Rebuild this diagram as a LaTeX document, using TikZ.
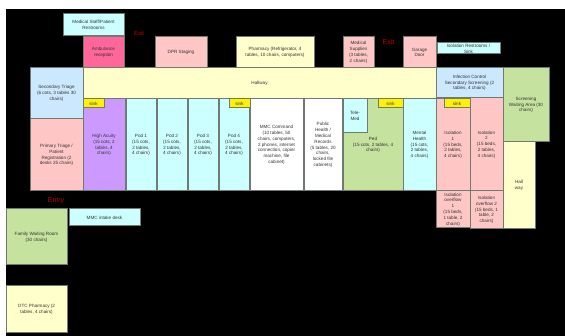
\documentclass[tikz,border=0pt]{standalone}
\usepackage{fontspec}
\setmainfont{Liberation Sans}
\definecolor{rcyan}{HTML}{CCFFFF}
\definecolor{rpink}{HTML}{FFC6C6}
\definecolor{rhot}{HTML}{FF6699}
\definecolor{ryellow}{HTML}{FFFFCC}
\definecolor{rblue}{HTML}{CCE8FF}
\definecolor{rgreen}{HTML}{C6E29F}
\definecolor{rpurple}{HTML}{CC99FF}
\definecolor{rborder}{HTML}{707A70}
\definecolor{rexit}{HTML}{C00000}
\tikzset{
  roomst/.style={draw=rborder,line width=1pt,rectangle,inner sep=0pt,outer sep=0pt,align=center,text=black!80,
    font=\fontsize{4.6}{5.8}\selectfont},
  exitst/.style={text=rexit,inner sep=0pt},
}
\newcommand\room[7]{%
  \pgfmathsetmacro\rw{#4-#2}\pgfmathsetmacro\rh{#5-#3}%
  \pgfmathsetmacro\rx{(#2+#4)/2}\pgfmathsetmacro\ry{-(#3+#5)/2}%
  \node[roomst,fill=#6,minimum width=\rw pt,minimum height=\rh pt] (#1) at (\rx pt,\ry pt) {#7};}
\begin{document}
\begin{tikzpicture}[x=1pt,y=1pt]
\useasboundingbox (0,0) rectangle (565,-336);
\fill[white] (0,0) rectangle (565,-336);
\fill[black] (6,-9) rectangle (565,-336);
\room{staff}{63}{14}{124}{36}{rcyan}{Medical Staff/Patient\\Restrooms}
\room{amb}{83}{37}{124}{68}{rhot}{Ambulance\\reception}
\room{dpr}{155}{37}{207}{68}{rpink}{DPR Staging}
\room{pharm}{236}{37}{314}{68}{ryellow}{Pharmacy (Refrigerator, 4\\tables, 10 chairs, computers)}
\room{supp}{343}{37}{374}{68}{rpink}{Medical\\Supplies\\(3 tables,\\2 chairs)}
\room{garage}{403}{37}{436}{68}{rpink}{Garage\\Door}
\room{isorest}{437}{43}{500}{54}{rcyan}{Isolation Restrooms /\\Sink}
\room{hall}{83}{68}{436}{99}{ryellow}{Hallway}
\room{sectri}{30}{68}{83}{119}{rblue}{Secondary Triage\\(6 cots, 3 tables 30\\chairs)}
\room{infect}{436}{68}{503}{98}{rblue}{Infection Control\\Secondary Screening (2\\tables, 4 chairs)}
\room{screen}{503}{68}{549}{142}{rgreen}{Screening\\Waiting Area (30\\chairs)}
\room{pritri}{30}{119}{83}{191}{rpink}{Primary Triage /\\Patient\\Registration (2\\desks 25 chairs)}
\room{high}{83}{99}{125}{191}{rpurple}{High Acuity\\(15 cots, 2\\tables, 4\\chairs)}
\room{podA}{126}{99}{156}{191}{rcyan}{Pod 1\\(15 cots,\\2 tables,\\4 chairs)}
\room{podB}{157}{99}{187}{191}{rcyan}{Pod 2\\(15 cots,\\2 tables,\\4 chairs)}
\room{podC}{188}{99}{218}{191}{rcyan}{Pod 3\\(15 cots,\\2 tables,\\4 chairs)}
\room{podD}{219}{99}{249}{191}{rcyan}{Pod 4\\(15 cots,\\2 tables,\\4 chairs)}
\room{mmc}{250}{99}{303}{191}{white}{MMC Command\\(10 tables, 50\\chairs, computers,\\2 phones, internet\\connection, copier\\machine, file\\cabinet)}
\room{pub}{304}{99}{342}{191}{white}{Public\\Health /\\Medical\\Records\\(5 tables, 20\\chairs,\\locked file\\cabinets)}
\room{ped}{343}{99}{403}{191}{rgreen}{Ped\\(15 cots, 2 tables, 4\\chairs)}
\room{tele}{343}{99}{367}{133}{rcyan}{Tele-\\Med}
\room{mental}{403}{99}{436}{191}{rcyan}{Mental\\Health\\(15 cots,\\2 tables,\\4 chairs)}
\room{isoA}{436}{99}{470}{191}{rpink}{Isolation\\1\\(15 beds,\\2 tables,\\4 chairs)}
\room{isoB}{470}{98}{503}{191}{rpink}{Isolation\\2\\(15 beds,\\2 tables,\\4 chairs)}
\room{overA}{436}{191}{470}{228}{rpink}{Isolation\\overflow\\1\\(15 beds,\\1 table, 2\\chairs)}
\room{overB}{470}{191}{503}{229}{rpink}{Isolation\\overflow 2\\(15 beds, 1\\table, 2\\chairs)}
\room{hallway}{503}{142}{535}{229}{ryellow}{Hall\\way}
\room{family}{6}{209}{67}{265}{rgreen}{Family Waiting Room\\(30 chairs)}
\room{intake}{69}{209}{140}{226}{rcyan}{MMC intake desk}
\room{otc}{6}{286}{67}{333}{ryellow}{OTC Pharmacy (2\\tables, 4 chairs)}
\room{sinkA}{83}{99}{104}{108}{yellow}{sink}
\room{sinkB}{229}{99}{250}{108}{yellow}{sink}
\room{sinkC}{378}{99}{403}{108}{yellow}{sink}
\room{sinkD}{444}{99}{470}{108}{yellow}{sink}
\node[exitst,font=\fontsize{6}{7}\selectfont] (exitA) at (139,-33.5) {Exit};
\node[exitst,font=\fontsize{7}{8}\selectfont] (exitB) at (388.5,-42) {Exit};
\node[exitst,font=\fontsize{7}{8}\selectfont] (entry) at (56,-200.5) {Entry};
\end{tikzpicture}
\end{document}
